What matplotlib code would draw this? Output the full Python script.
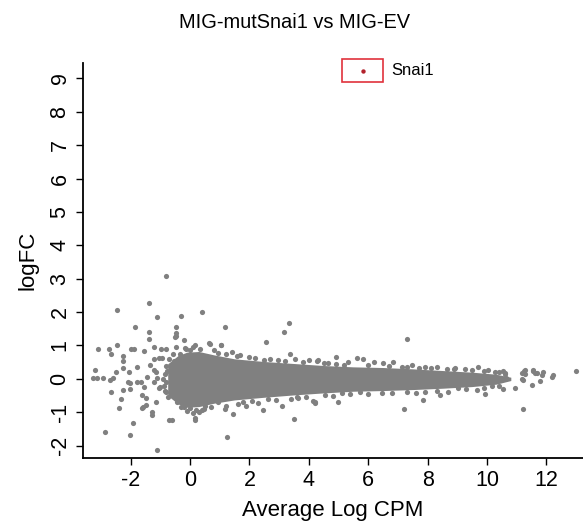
import matplotlib
matplotlib.use("Agg")
import matplotlib.pyplot as plt
from matplotlib.patches import Rectangle

plt.rcParams['font.family'] = ['Liberation Sans', 'DejaVu Sans']
plt.rcParams['axes.unicode_minus'] = False

# scattered genes outside the dense cloud (avg log CPM, logFC)
out_cpm = [-0.82, -1.37, -2.47, -1.10, -0.30, 0.41, -1.86, -1.37, -0.46, -1.37, 1.17,
           -3.09, -2.73, -2.66, -2.47, -1.98, -1.89, -2.25, -1.55, -1.22, -0.97, -0.81,
           -0.56, -0.46, -0.21, -2.25, -2.25, -2.04, -1.79, -1.35, -1.21, -1.21, -3.18,
           -3.26, -3.14, -2.94, -2.69, -2.60, -2.49, -2.65, -2.25, -2.02, -1.77, -1.66,
           -1.63, -2.02, -2.33, -2.40, -1.57, -1.49, -1.29, -1.44, -1.12, -1.14, -1.01,
           -0.79, -0.71, -0.62, -1.93, -0.19, 0.11, 0.47, 1.19, 1.44, -2.85, -2.01,
           -1.11, 1.24, 0.16, 3.51, -1.27, -1.61, -2.10, -1.55, -1.15, -1.04, -0.93,
           -1.04, -1.22, -1.47, -0.52, -0.46, -0.48, -0.18, 3.32, 3.15, 2.57, 0.67,
           1.04, 3.38, 0.17, 0.0, 0.50, 1.63, 1.89, 2.28, 2.45, 3.11, 4.15, 3.59,
           4.21, 7.31, 4.91, 4.21, 4.55, 4.97, 7.19, 7.62, 7.83, 8.42, 11.2, 13.0,
           9.94, 10.55, 10.94, 11.5, 11.25, 11.29, 11.56, 11.63, 11.87, 11.84, 12.19,
           12.23, 11.78, 11.16, 11.22, 10.6, 10.64, 10.53]
out_lfc = [3.08, 2.27, 2.06, 1.85, 1.87, 1.99, 1.54, 1.39, 1.54, 1.19, 1.54,
           0.89, 0.89, 0.73, 1.02, 0.90, 0.90, 0.69, 0.84, 0.95, 0.89, 0.89,
           0.74, 1.29, 1.17, 0.54, 0.32, 0.22, 0.35, 0.42, 0.61, 0.26, 0.27,
           0.02, 0.02, 0.02, -0.03, 0.04, 0.22, -0.38, -0.33, -0.13, -0.08, -0.08,
           -0.48, -0.31, -0.59, -0.88, -0.83, -0.79, -1.08, 0.07, 0.02, -0.68, -0.23,
           -0.38, -1.23, -1.23, -1.31, -0.83, -1.01, -0.91, -0.91, -1.05, -1.59, -1.68,
           -2.13, -1.74, -1.23, -1.20, -0.98, -0.88, -0.10, -0.23, 0.20, 0.62, 0.62,
           -0.28, -0.08, -0.56, 1.25, 1.37, 0.95, 0.92, 1.67, 1.39, 1.09, 1.05,
           1.02, 0.75, -1.18, -0.88, -0.81, -0.75, -0.81, -0.71, -0.93, -0.81, -0.65, -0.55,
           -0.73, 1.19, 0.67, -0.68, -0.48, -0.68, -0.91, -0.41, -0.63, -0.49, -0.91, 0.24,
           -0.46, -0.29, -0.27, -0.17, 0.23, 0.15, 0.27, 0.19, 0.21, 0.11, 0.07,
           0.13, -0.05, -0.01, -0.03, 0.19, 0.02, 0.01]

# genes sitting on the rim of the dense cloud
edge_cpm = [0.17, 0.64, 1.04, 0.95, 1.40, 1.68, 1.99, 2.70, 2.95, 3.54, 4.01, 4.27,
            0.41, 0.95, 2.64, 3.65, 4.32, 4.66, 5.31, 5.61, 5.84, 6.20, 6.51, 6.82,
            7.13, 7.46, 7.91, 8.31, 8.64, 5.11, 5.72, 6.45, 8.70, 8.92, 9.26, 9.71,
            10.04, 10.27, 10.55, 10.61, 11.17, 11.28, 11.56, 11.67, 9.03, 9.65, 10.16,
            -0.55, -0.60, -0.65, -0.60, -0.55, -0.45, -0.30, -0.35, -0.15, 0.10, -0.10, 0.30,
            0.0, 0.35, 0.8, 1.2, 1.6, 2.2, 2.5, 3.2, 3.8, 4.5, 4.9, 5.2, 6.0, 6.7,
            7.3, 7.7, 8.1, 8.9, 9.5, 9.9, 10.4,
            0.2, 0.7, 1.2, 1.8, 2.1, 2.9, 3.4, 3.9, 4.8, 5.4, 6.0, 6.8, 7.3, 7.9,
            8.3, 9.3, 9.9, 10.4,
            -0.80, -0.85, -0.80, -0.85, -0.75, -0.70, -0.90, -0.78, -0.88]
edge_lfc = [1.02, 1.07, 1.00, 0.77, 0.79, 0.72, 0.67, 0.61, 0.57, 0.61, 0.57, 0.55,
            -0.93, -0.68, -0.61, -0.58, 0.57, 0.47, 0.52, 0.62, 0.60, 0.52, 0.49, 0.50,
            0.37, 0.42, 0.37, 0.35, 0.29, -0.43, -0.38, -0.41, -0.38, 0.32, 0.29, 0.37,
            0.27, 0.22, 0.25, 0.15, 0.17, 0.27, 0.25, 0.17, -0.28, -0.33, -0.21,
            0.55, 0.30, 0.05, -0.20, -0.45, -0.70, -0.85, 0.75, 0.90, 0.95, -0.95, -1.00,
            0.85, 0.90, 0.85, 0.75, 0.68, 0.62, 0.58, 0.55, 0.52, 0.47, 0.45, 0.43, 0.42, 0.40,
            0.36, 0.34, 0.33, 0.30, 0.27, 0.25, 0.20,
            -0.92, -0.85, -0.80, -0.70, -0.66, -0.62, -0.60, -0.55, -0.50, -0.45, -0.44, -0.42,
            -0.40, -0.38, -0.36, -0.30, -0.28, -0.22,
            0.40, 0.15, -0.10, -0.35, -0.55, 0.60, 0.00, 0.25, -0.22]

# outline of the solid core of the cloud
band_cpm = [-0.75, -0.4, -0.1, 0.3, 0.8, 1.5, 2.5, 3.5, 4.5, 5.5, 6.5, 7.5, 8.5, 9.5, 10.3, 10.8]
band_hi = [0.45, 0.7, 0.8, 0.82, 0.72, 0.6, 0.52, 0.46, 0.4, 0.36, 0.34, 0.3, 0.25, 0.2, 0.14, 0.05]
band_lo = [-0.5, -0.75, -0.85, -0.83, -0.73, -0.63, -0.55, -0.48, -0.42, -0.37, -0.35, -0.32, -0.28, -0.23, -0.16, -0.05]

snai1_cpm = 5.83
snai1_lfc = 9.22

fig = plt.figure(figsize=(5.83, 5.29), dpi=100)
ax = fig.add_axes([0.1424, 0.1348, 0.8576, 0.7462])

grey = '#808080'
ax.fill_between(band_cpm, band_lo, band_hi, color=grey, lw=0, zorder=1)
ax.scatter(edge_cpm, edge_lfc, s=14, color=grey, lw=0, zorder=2)
ax.scatter(out_cpm, out_lfc, s=14, color=grey, lw=0, zorder=2)

ax.scatter([snai1_cpm], [snai1_lfc], s=10, color='#b2222c', lw=0, zorder=3)
ax.add_patch(Rectangle((snai1_cpm - 0.70, snai1_lfc - 0.34), 1.38, 0.70, fill=False,
                       edgecolor='#e0323c', lw=1.2, clip_on=False, zorder=3))
ax.text(snai1_cpm + 0.93, snai1_lfc, 'Snai1', fontsize=12, va='center', ha='left')

ax.set_xlim(-3.6, 13.23)
ax.set_ylim(-2.36, 9.46)
ax.set_xticks([-2, 0, 2, 4, 6, 8, 10, 12])
ax.set_yticks(range(-2, 10))

for s in ['top', 'right']:
    ax.spines[s].set_visible(False)
for s in ['left', 'bottom']:
    ax.spines[s].set_linewidth(1.3)

ax.tick_params(length=5, width=1.0, labelsize=15.5, pad=4)
for lab in ax.get_yticklabels():
    lab.set_rotation(90)
    lab.set_va('center')

ax.set_xlabel('Average Log CPM', fontsize=16, labelpad=6)
ax.set_ylabel('logFC', fontsize=16, labelpad=8)
fig.suptitle('MIG-mutSnai1 vs MIG-EV', fontsize=14.4, x=0.505, y=0.975)

fig.savefig('out.png', dpi=100)
